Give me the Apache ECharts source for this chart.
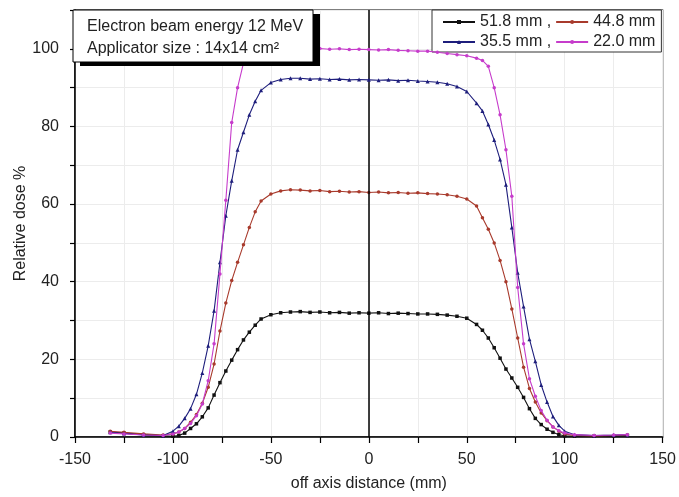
<!DOCTYPE html>
<html>
<head>
<meta charset="utf-8">
<script src="https://cdn.jsdelivr.net/npm/echarts@6/dist/echarts.min.js"></script>
<style>html,body{margin:0;padding:0;background:#fff;}#c{width:679px;height:497px;}</style>
</head>
<body>
<div id="c"></div>
<script>
// off-axis positions (mm)
const xs = [-132,-125,-115,-105,
  -100,-97,-94,-91,-88,-85,-82,-79,-76,-73,-70,-67,-64,-61,-58,-55,
  -50,-45,-40,-35,-30,-25,-20,-15,-10,-5,0,5,10,15,20,25,30,35,40,45,50,
  55,58,61,64,67,70,73,76,79,82,85,88,91,94,97,100,
  105,115,125,132];
const seriesNames = ['51.8 mm','44.8 mm','35.5 mm','22.0 mm'];
const d518 = [1.3,1.0,0.6,0.3,
  0.2,0.4,1.0,2.2,3.4,5.2,7.5,10.8,14,17,19.8,22.5,25,27,28.8,30.4,
  31.5,32,32.2,32.3,32.1,32.2,32,32.1,31.9,32,31.9,32,31.8,31.9,31.8,31.7,31.7,31.6,31.4,31.1,30.6,
  29,27.5,25.5,23,20.3,17.5,15.2,12.8,10.2,7.3,4.8,3.2,2,1.2,0.6,0.3,
  0.2,0.2,0.3,0.4];
const d448 = [1.5,1.2,0.8,0.5,
  0.8,1.3,2.2,3.8,5.8,8.7,12.8,18.8,27.3,34.5,40.3,45,49.5,54,58,60.8,
  62.6,63.4,63.7,63.6,63.4,63.5,63.2,63.3,63.1,63.2,63,63.1,62.9,63,62.8,62.9,62.7,62.6,62.4,62,61.3,
  59.5,56.5,53.5,50,45.5,40,33,25.5,18,12.5,9,6.2,4.2,2.6,1.5,0.8,
  0.4,0.3,0.4,0.5];
const d355 = [1.2,0.9,0.5,0.4,
  1.5,2.8,4.8,7.3,11,16.5,23.5,32.5,45,57,66,74,78.5,83,86.5,89.3,
  91.3,92.1,92.4,92.4,92.2,92.3,92.1,92.2,92,92.1,92,91.9,92,91.8,91.9,91.7,91.6,91.4,91,90.3,89,
  86,84,80.5,76.5,71.5,65,54,42.3,33.6,25.2,19.5,13.4,9,5.3,3,1.5,
  0.6,0.4,0.5,0.6];
const d220 = [1.0,0.8,0.5,0.4,
  0.8,1.3,2.2,3.5,5.5,8.5,14.5,24,42,61,81,90,96.3,99,99.8,100.2,
  100.3,100.4,100.2,100.2,100,100.1,99.9,100,99.8,99.9,99.8,99.7,99.8,99.6,99.5,99.4,99.4,99.1,98.8,98.5,98.2,
  97.6,97,95.5,90,83,74,62,38.5,24,15,10.5,6.8,4.3,2.6,1.6,1,
  0.6,0.4,0.5,0.6];
const seriesData = [d518, d448, d355, d220];
const colors = ['#111111','#a83a2c','#1e1e7c','#c63ccb'];
const symbols = ['rect','circle','triangle','circle'];
const xTicks = [-150,-100,-50,0,50,100,150];
const yTicks = [0,20,40,60,80,100];
const boxLines = ['Electron beam energy 12 MeV','Applicator size : 14x14 cm\u00B2'];

const FONT = '"Liberation Sans", Arial, sans-serif';
const chart = echarts.init(document.getElementById('c'), null, {renderer:'canvas'});

const series = seriesNames.map((n, i) => ({
  name: n,
  type: 'line',
  data: xs.map((x, k) => [x, seriesData[i][k]]),
  symbol: symbols[i],
  symbolSize: i === 2 ? 4 : 3.5,
  showSymbol: true,
  lineStyle: {color: colors[i], width: 1.1},
  itemStyle: {color: colors[i]},
  animation: false,
  z: 3 + i,
  markLine: i === 0 ? {
    silent: true, symbol: ['none','none'], label: {show: false},
    lineStyle: {color: '#000', width: 1.5, type: 'solid'},
    data: [{xAxis: 0}], animation: false
  } : undefined
}));

chart.setOption({
  backgroundColor: '#fff',
  animation: false,
  grid: {left: 75, right: 16, top: 10, bottom: 57, show: true, borderColor: '#000', borderWidth: 1.2, backgroundColor: 'transparent'},
  xAxis: {
    type: 'value', min: -150, max: 150, interval: 25,
    name: 'off axis distance (mm)', nameLocation: 'middle', nameGap: 39, nameMoveOverlap: false,
    nameTextStyle: {fontFamily: FONT, fontSize: 16, color: '#222'},
    axisLine: {onZero: false, lineStyle: {color: '#000', width: 1.5}},
    axisTick: {show: true, length: 6, lineStyle: {color: '#000', width: 1.2}},
    axisLabel: {fontFamily: FONT, fontSize: 16, color: '#222', margin: 15,
      formatter: v => xTicks.indexOf(v) >= 0 ? String(v) : ''},
    splitLine: {show: true, lineStyle: {color: '#ececec', width: 1}}
  },
  yAxis: {
    type: 'value', min: 0, max: 110, interval: 10,
    name: 'Relative dose %', nameLocation: 'middle', nameGap: 46, nameMoveOverlap: false,
    nameTextStyle: {fontFamily: FONT, fontSize: 16, color: '#222'},
    axisLine: {show: true, onZero: false, lineStyle: {color: '#000', width: 1.5}},
    axisTick: {show: true, length: 5, lineStyle: {color: '#000', width: 1.2}},
    axisLabel: {fontFamily: FONT, fontSize: 16, color: '#222', margin: 16,
      formatter: v => yTicks.indexOf(v) >= 0 ? String(v) : ''},
    splitLine: {show: true, lineStyle: {color: '#ececec', width: 1}}
  },
  legend: {
    left: 432, top: 10, width: 224,
    orient: 'horizontal',
    backgroundColor: '#fff', borderColor: '#333', borderWidth: 1,
    padding: [4, 6, 2, 10],
    itemGap: 4, itemWidth: 32, itemHeight: 5,
    textStyle: {fontFamily: FONT, fontSize: 16, color: '#222'},
    formatter: n => (n === '51.8 mm' || n === '35.5 mm') ? n + ' ,' : n,
    data: seriesNames
  },
  graphic: [
    {type: 'rect', shape: {x: 80, y: 14, width: 240, height: 52}, style: {fill: '#000'}, z: 100},
    {type: 'rect', shape: {x: 73, y: 10, width: 240, height: 52}, style: {fill: '#fff', stroke: '#000', lineWidth: 1}, z: 101},
    {type: 'text', x: 87, y: 19, style: {text: boxLines[0], font: '16px ' + FONT, fill: '#222'}, z: 102},
    {type: 'text', x: 87, y: 41, style: {text: boxLines[1], font: '16px ' + FONT, fill: '#222'}, z: 102}
  ],
  series: series
});
</script>
</body>
</html>
